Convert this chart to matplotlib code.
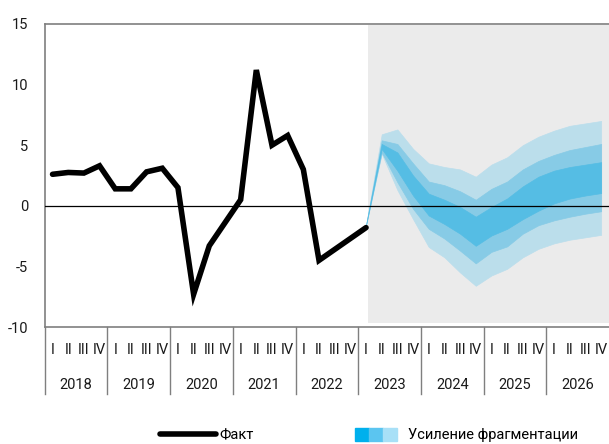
import matplotlib.pyplot as plt
from matplotlib.lines import Line2D
from matplotlib.patches import Patch
from matplotlib.legend_handler import HandlerTuple

plt.rcParams['font.family'] = ['Roboto', 'DejaVu Sans']

# Данные
years = ['2018', '2019', '2020', '2021', '2022', '2023', '2024', '2025', '2026']
quarters = ['I', 'II', 'III', 'IV']

# факт: 2018 I - 2023 I
fact = [2.6, 2.75, 2.7, 3.3, 1.4, 1.4, 2.8, 3.1, 1.5, -7.3, -3.3, -1.4,
        0.5, 11.2, 5.0, 5.8, 3.0, -4.5, -3.6, -2.7, -1.8]

# веер прогноза: 2023 I - 2026 IV
fan_upper3 = [-1.6, 5.9, 6.3, 4.7, 3.5, 3.2, 3.0, 2.4, 3.4, 4.0, 5.0, 5.7, 6.2, 6.6, 6.8, 7.0]
fan_upper2 = [-1.6, 5.4, 5.1, 3.5, 2.0, 1.7, 1.2, 0.5, 1.4, 2.0, 3.0, 3.7, 4.2, 4.6, 4.85, 5.1]
fan_upper1 = [-1.6, 5.1, 4.4, 2.5, 1.0, 0.5, -0.1, -0.9, -0.1, 0.6, 1.6, 2.4, 2.9, 3.2, 3.4, 3.6]
fan_lower1 = [-1.6, 4.7, 2.9, 0.85, -0.8, -1.5, -2.3, -3.3, -2.45, -1.9, -1.1, -0.4, 0.2, 0.6, 0.85, 1.05]
fan_lower2 = [-1.6, 4.4, 1.95, -0.25, -1.9, -2.7, -3.7, -4.75, -3.8, -3.35, -2.3, -1.6, -1.2, -0.9, -0.65, -0.45]
fan_lower3 = [-1.6, 4.3, 1.3, -1.1, -3.4, -4.25, -5.5, -6.6, -5.75, -5.2, -4.25, -3.55, -3.1, -2.8, -2.6, -2.4]

n_q = len(years) * 4
x_fact = list(range(len(fact)))
x_fan = list(range(len(fact) - 1, n_q))

c_light = '#bbdeeb'
c_mid = '#87cbe6'
c_dark = '#55bde4'
grey = '#7f7f7f'

fig = plt.figure(figsize=(6.09, 4.44), dpi=100)
ax = fig.add_axes([0.0734, 0.2635, 0.9266, 0.6825])

# прогнозный период
ax.axvspan(20.1, n_q - 0.5, ymin=0.013, ymax=0.996, color='#ebebeb', lw=0, zorder=0)

ax.fill_between(x_fan, fan_lower3, fan_upper3, color=c_light, lw=0.5, zorder=1)
ax.fill_between(x_fan, fan_lower2, fan_upper2, color=c_mid, lw=0.5, zorder=2)
ax.fill_between(x_fan, fan_lower1, fan_upper1, color=c_dark, lw=0.5, zorder=3)

ax.axhline(0, color='black', lw=0.9, zorder=4)
ax.plot(x_fact, fact, color='black', lw=4, solid_capstyle='round',
        solid_joinstyle='miter', zorder=5)

ax.set_xlim(-0.5, n_q - 0.5)
ax.set_ylim(-10, 15)
ax.set_yticks([-10, -5, 0, 5, 10, 15])
ax.set_yticklabels(['-10', '-5', '0', '5', '10', '15'])
ax.tick_params(axis='y', length=0, pad=12, labelsize=10.5, colors='#1a1a1a')
ax.set_xticks([])

for side in ['top', 'left', 'bottom']:
    ax.spines[side].set_color(grey)
    ax.spines[side].set_linewidth(1.2)
ax.spines['right'].set_visible(False)

# подписи кварталов и лет
trans = ax.get_xaxis_transform()
for i in range(n_q):
    ax.text(i, -0.077, quarters[i % 4], transform=trans, ha='center', va='center',
            fontsize=10.5, color='#1a1a1a')
for k, yr in enumerate(years):
    ax.text(4 * k + 1.5, -0.19, yr, transform=trans, ha='center', va='center',
            fontsize=10.5, color='#1a1a1a')
for k in range(len(years)):
    ax.plot([4 * k - 0.5, 4 * k - 0.5], [0, -0.22], transform=trans, color=grey,
            lw=1, clip_on=False)

# легенда
h_fact = Line2D([], [], color='black', lw=4, solid_capstyle='round')
h_fan = (Patch(color='#00b0ed'), Patch(color='#5bc5f0'), Patch(color='#a8e0f7'))
fig.legend([h_fact], ['Факт'], loc='center left', bbox_to_anchor=(0.262, 0.02),
           frameon=False, fontsize=10.5, handlelength=3.9, handletextpad=0.2,
           borderpad=0, borderaxespad=0)
fig.legend([h_fan], ['Усиление фрагментации'], loc='center left',
           bbox_to_anchor=(0.583, 0.02), frameon=False, fontsize=10.5,
           handlelength=2.9, handleheight=1.0, handletextpad=0.7, borderpad=0,
           borderaxespad=0, handler_map={tuple: HandlerTuple(ndivide=None, pad=0)})

fig.savefig('out.png', dpi=100)
